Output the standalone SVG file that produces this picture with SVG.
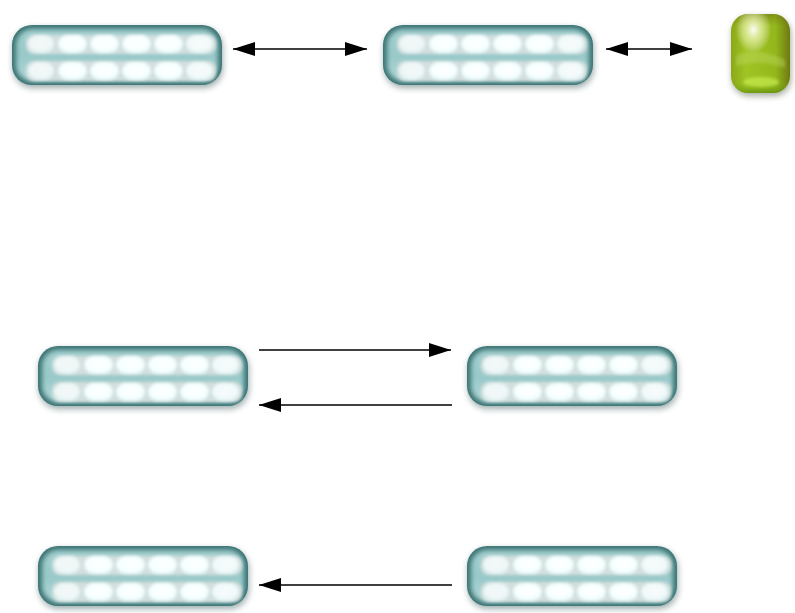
<svg xmlns="http://www.w3.org/2000/svg" xmlns:xlink="http://www.w3.org/1999/xlink" width="795" height="613" viewBox="0 0 795 613">
<defs>
<style>
.conn line{stroke:#000;stroke-width:1.4;fill:none}
</style>
<filter id="sh" x="-20%" y="-30%" width="140%" height="160%"><feGaussianBlur stdDeviation="3"/></filter>
<filter id="b2" x="-10%" y="-20%" width="120%" height="140%"><feGaussianBlur stdDeviation="2.5"/></filter>
<filter id="b1" x="-20%" y="-40%" width="140%" height="180%"><feGaussianBlur stdDeviation="1.4"/></filter>
<linearGradient id="tealIn" x1="0" y1="0" x2="0" y2="1">
<stop offset="0" stop-color="#a4d0d0"/>
<stop offset="0.5" stop-color="#98c8c8"/>
<stop offset="1" stop-color="#b0d8d8"/>
</linearGradient>
<radialGradient id="cell" cx="0.5" cy="0.45" r="0.6">
<stop offset="0" stop-color="#ffffff"/>
<stop offset="0.7" stop-color="#f6ffff"/>
<stop offset="1" stop-color="#d8f4f4"/>
</radialGradient>
<linearGradient id="greenG" x1="0" y1="0" x2="1" y2="0">
<stop offset="0" stop-color="#8aa818"/>
<stop offset="0.25" stop-color="#a0c424"/>
<stop offset="0.75" stop-color="#94b81c"/>
<stop offset="1" stop-color="#6e7a10"/>
</linearGradient>
<linearGradient id="greenV" x1="0" y1="0" x2="0" y2="1">
<stop offset="0" stop-color="#6a6a10" stop-opacity="0.5"/>
<stop offset="0.15" stop-color="#6a6a10" stop-opacity="0"/>
<stop offset="0.85" stop-color="#88c020" stop-opacity="0"/>
<stop offset="1" stop-color="#4e7a05" stop-opacity="0.6"/>
</linearGradient>
<radialGradient id="greenHi" cx="0.38" cy="0.2" r="0.3">
<stop offset="0" stop-color="#ffffff" stop-opacity="0.95"/>
<stop offset="0.5" stop-color="#f4f8c0" stop-opacity="0.6"/>
<stop offset="1" stop-color="#ffffff" stop-opacity="0"/>
</radialGradient>
<marker id="ah" markerUnits="userSpaceOnUse" markerWidth="22" markerHeight="14" refX="22" refY="7" orient="auto-start-reverse">
<path d="M0,0 L22,7 L0,14 z" fill="#000"/>
</marker>
<g id="pill">
<rect x="1" y="3" width="210" height="60" rx="20" fill="#2a4a4a" opacity="0.45" filter="url(#sh)"/>
<rect width="210" height="60" rx="20" fill="#3a7272"/>
<rect x="4" y="4" width="202" height="52" rx="16" fill="url(#tealIn)" filter="url(#b2)"/>
<rect x="14" y="10" width="190" height="19" rx="8" fill="#d4dede" filter="url(#b1)"/>
<rect x="14" y="36" width="190" height="20" rx="8" fill="#d4dede" filter="url(#b1)"/>
<g fill="url(#cell)" filter="url(#b1)">
<rect x="16" y="10" width="26" height="18" rx="9" opacity="0.75"/>
<rect x="46" y="10" width="29" height="18" rx="9"/>
<rect x="78" y="10" width="29" height="18" rx="9"/>
<rect x="110" y="10" width="29" height="18" rx="9"/>
<rect x="142" y="10" width="29" height="18" rx="9"/>
<rect x="174" y="10" width="27" height="18" rx="9" opacity="0.85"/>
<rect x="16" y="37" width="26" height="18" rx="9" opacity="0.75"/>
<rect x="46" y="37" width="29" height="18" rx="9"/>
<rect x="78" y="37" width="29" height="18" rx="9"/>
<rect x="110" y="37" width="29" height="18" rx="9"/>
<rect x="142" y="37" width="29" height="18" rx="9"/>
<rect x="174" y="37" width="27" height="18" rx="9" opacity="0.85"/>
</g>
</g>
</defs>
<rect width="795" height="613" fill="#fff"/>
<g id="node-a" transform="translate(12,25)"><use xlink:href="#pill" href="#pill"/></g>
<g id="node-b" transform="translate(383,25)"><use xlink:href="#pill" href="#pill"/></g>
<g id="node-c" transform="translate(731,14)">
<rect x="1" y="3" width="59" height="79" rx="17" fill="#203010" opacity="0.4" filter="url(#sh)"/>
<rect width="59" height="79" rx="17" fill="url(#greenG)"/>
<rect width="59" height="79" rx="17" fill="url(#greenV)"/>
<path d="M5,42 Q25,32 54,46 L54,54 Q30,44 5,52 z" fill="#c8e070" opacity="0.35" filter="url(#b1)"/>
<ellipse cx="30" cy="68" rx="18" ry="5" fill="#c6ec50" opacity="0.7" filter="url(#b1)"/>
<rect width="59" height="79" rx="17" fill="url(#greenHi)"/>
</g>
<g id="node-d" transform="translate(38,346)"><use xlink:href="#pill" href="#pill"/></g>
<g id="node-e" transform="translate(467,346)"><use xlink:href="#pill" href="#pill"/></g>
<g id="node-f" transform="translate(38,546)"><use xlink:href="#pill" href="#pill"/></g>
<g id="node-g" transform="translate(467,546)"><use xlink:href="#pill" href="#pill"/></g>
<g class="conn" id="connectors">
<line x1="233" y1="49" x2="367" y2="49" marker-start="url(#ah)" marker-end="url(#ah)"/>
<line x1="606" y1="49" x2="692" y2="49" marker-start="url(#ah)" marker-end="url(#ah)"/>
<line x1="259" y1="350" x2="451" y2="350" marker-end="url(#ah)"/>
<line x1="452" y1="405" x2="259" y2="405" marker-end="url(#ah)"/>
<line x1="452" y1="585" x2="259" y2="585" marker-end="url(#ah)"/>
</g>
</svg>
